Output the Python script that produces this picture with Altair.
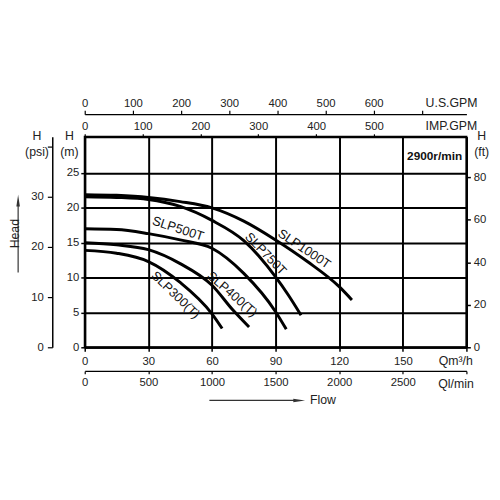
import altair as alt
import pandas as pd

FONT = "Liberation Sans"

# ---- pump curves: Q (m3/h) vs H (m) ----
models = ["SLP1000T", "SLP750T", "SLP500T", "SLP400(T)", "SLP300(T)"]
q_1000 = [0, 15, 30, 45, 60, 75, 90, 105, 120, 126]
h_1000 = [21.9, 21.8, 21.5, 20.9, 20.0, 18.1, 15.4, 12.3, 8.7, 6.8]
q_750 = [0, 15, 30, 45, 60, 75, 90, 96, 102]
h_750 = [21.6, 21.5, 21.2, 20.2, 18.2, 15.3, 10.1, 7.5, 4.6]
q_500 = [0, 15, 30, 45, 60, 75, 90, 95]
h_500 = [17.0, 16.9, 16.3, 15.4, 14.2, 10.6, 5.1, 2.6]
q_400 = [0, 15, 30, 45, 60, 70, 77.5]
h_400 = [15.0, 14.7, 14.0, 12.0, 8.9, 5.3, 2.9]
q_300 = [0, 15, 30, 45, 60, 64.8]
h_300 = [13.9, 13.5, 12.3, 9.3, 4.8, 2.7]

# curve labels
label_q = [44.0, 85.3, 103.5, 69.5, 42.8]
label_h = [17.0, 13.4, 14.1, 7.6, 7.5]
label_angle = [18, 46, 34, 41, 44]
label_text = ["SLP500T", "SLP750T", "SLP1000T", "SLP400(T)", "SLP300(T)"]

speed_text = ["2900r/min"]
speed_q = [165.0]
speed_h = [27.5]

# axis ticks
q_ticks = [0, 30, 60, 90, 120, 150, 180]
h_ticks = [0, 5, 10, 15, 20, 25]
ft_ticks = [0, 20, 40, 60, 80]
psi_ticks = [0, 10, 20, 30, 40]
lmin_ticks = [0, 500, 1000, 1500, 2000, 2500, 3000]
imp_ticks = [0, 100, 200, 300, 400, 500]
us_ticks = [0, 100, 200, 300, 400, 500, 600, 700]

Q_MAX = 180
H_MAX = 30.2
PSI_MAX = 42.0
FT_MAX = H_MAX * 3.28084
LMIN_MAX = Q_MAX * 1000 / 60
IMP_MAX = Q_MAX * 3.66615
US_MAX = Q_MAX * 4.40287

W, H = 388, 214

frames = []
for name, qs, hs in zip(models, [q_1000, q_750, q_500, q_400, q_300],
                        [h_1000, h_750, h_500, h_400, h_300]):
    frames.append(pd.DataFrame({"model": name, "Q": qs, "H": hs}))
curve_df = pd.concat(frames, ignore_index=True)
label_df = pd.DataFrame({"Q": label_q, "H": label_h, "angle": label_angle, "name": label_text})
speed_df = pd.DataFrame({"Q": speed_q, "H": speed_h, "t": speed_text})


def ax(**kw):
    base = dict(labelFont=FONT, titleFont=FONT, labelFontSize=11.5, titleFontSize=12.5,
                labelColor="#222", titleColor="#222", titleFontWeight="normal",
                domainColor="#000", tickColor="#000", grid=False, labelFlush=False,
                labelOverlap=False, titleAngle=0, format="d")
    base.update(kw)
    return alt.Axis(**base)


def hide_last(v):
    return f"datum.value == {v} ? '' : datum.label"


xs = alt.Scale(domain=[0, Q_MAX], nice=False, zero=False)
ys = alt.Scale(domain=[0, H_MAX], nice=False, zero=False)

x_axis = ax(orient="bottom", values=q_ticks, labelExpr=hide_last(180), grid=True,
            gridColor="#000", gridWidth=2, gridOpacity=1, domainWidth=2, tickSize=4,
            tickWidth=1.5, labelPadding=4, title="Qm³/h", titleX=394, titleY=14,
            titleAlign="right", titleBaseline="middle")
y_axis = ax(orient="left", values=h_ticks, grid=True, gridColor="#000", gridWidth=2,
            gridOpacity=1, domainWidth=2, tickSize=4, tickWidth=1.5, labelPadding=2,
            title=["H", "(m)"], titleX=-16, titleY=-7, titleAlign="center",
            titleBaseline="top", titleLineHeight=16)

curves = alt.Chart(curve_df).mark_line(color="black", strokeWidth=3, interpolate="monotone").encode(
    x=alt.X("Q:Q", scale=xs, axis=x_axis),
    y=alt.Y("H:Q", scale=ys, axis=y_axis),
    detail="model:N",
)
labels = alt.Chart(label_df).mark_text(font=FONT, fontSize=13, color="#111",
                                       align="center", baseline="middle").encode(
    x=alt.X("Q:Q", scale=xs, axis=x_axis),
    y=alt.Y("H:Q", scale=ys, axis=y_axis),
    text="name:N",
    angle=alt.Angle("angle:Q", scale=None),
)
speed = alt.Chart(speed_df).mark_text(font=FONT, fontSize=12, fontWeight="bold", color="#111",
                                      align="center", baseline="middle").encode(
    x=alt.X("Q:Q", scale=xs, axis=x_axis),
    y=alt.Y("H:Q", scale=ys, axis=y_axis),
    text="t:N",
)
main = alt.layer(curves, labels, speed)

# ---- secondary axes ----
ft_layer = alt.Chart(pd.DataFrame({"ft": ft_ticks})).mark_point(opacity=0).encode(
    y=alt.Y("ft:Q", scale=alt.Scale(domain=[0, FT_MAX], nice=False, zero=False),
            axis=ax(orient="right", values=ft_ticks, tickSize=4, tickWidth=1.5, domainWidth=2,
                    labelPadding=3, title=["H", "(ft)"], titleX=15, titleY=-7,
                    titleAlign="center", titleBaseline="top", titleLineHeight=16))
)
psi_layer = alt.Chart(pd.DataFrame({"psi": psi_ticks})).mark_point(opacity=0).encode(
    y=alt.Y("psi:Q", scale=alt.Scale(domain=[0, PSI_MAX], nice=False, zero=False),
            axis=ax(orient="left", offset=33, values=psi_ticks, labelExpr=hide_last(40),
                    tickSize=5, tickWidth=1.2, domainWidth=1.5, labelPadding=4,
                    title=["H", "(psi)"], titleX=-16, titleY=-7, titleAlign="center",
                    titleBaseline="top", titleLineHeight=16))
)
lmin_layer = alt.Chart(pd.DataFrame({"l": lmin_ticks})).mark_point(opacity=0).encode(
    x=alt.X("l:Q", scale=alt.Scale(domain=[0, LMIN_MAX], nice=False, zero=False),
            axis=ax(orient="bottom", offset=24, values=lmin_ticks, labelExpr=hide_last(3000),
                    tickSize=3, tickWidth=1.2, domainWidth=1.5, labelPadding=3,
                    title="Ql/min", titleX=395, titleY=13, titleAlign="right",
                    titleBaseline="middle"))
)
imp_layer = alt.Chart(pd.DataFrame({"g": imp_ticks})).mark_point(opacity=0).encode(
    x=alt.X("g:Q", scale=alt.Scale(domain=[0, IMP_MAX], nice=False, zero=False),
            axis=ax(orient="top", values=imp_ticks, tickSize=3, tickWidth=1.2, domainWidth=2,
                    labelPadding=2, title="IMP.GPM", titleX=346, titleY=-11,
                    titleAlign="left", titleBaseline="middle"))
)
us_layer = alt.Chart(pd.DataFrame({"u": us_ticks})).mark_point(opacity=0).encode(
    x=alt.X("u:Q", scale=alt.Scale(domain=[0, US_MAX], nice=False, zero=False),
            axis=ax(orient="top", offset=23, values=us_ticks, labelExpr=hide_last(700),
                    tickSize=4, tickWidth=1.2, domainWidth=1.5, labelPadding=2,
                    title="U.S.GPM", titleX=346, titleY=-12, titleAlign="left",
                    titleBaseline="middle"))
)

# ---- annotation arrows ----
one = pd.DataFrame({"a": [0]})
ARROW_R = "M-1,-0.3L1,0L-1,0.3Z"
ARROW_U = "M-0.3,1L0,-1L0.3,1Z"
flow_line = alt.Chart(one).mark_rule(color="#333", strokeWidth=1.2).encode(
    x=alt.value(126.7), x2=alt.value(214), y=alt.value(268))
flow_head = alt.Chart(one).mark_point(shape=ARROW_R, filled=True, color="#333", size=144,
                                      opacity=1, strokeWidth=0).encode(
    x=alt.value(218), y=alt.value(268))
flow_text = alt.Chart(one).mark_text(text="Flow", font=FONT, fontSize=12.5, color="#222",
                                     align="left", baseline="middle").encode(
    x=alt.value(229), y=alt.value(268))
head_line = alt.Chart(one).mark_rule(color="#333", strokeWidth=1.2).encode(
    x=alt.value(-67.7), y=alt.value(138), y2=alt.value(66))
head_head = alt.Chart(one).mark_point(shape=ARROW_U, filled=True, color="#333", size=144,
                                      opacity=1, strokeWidth=0).encode(
    x=alt.value(-67.7), y=alt.value(65))
head_text = alt.Chart(one).mark_text(text="Head", font=FONT, fontSize=12.5, color="#222",
                                     align="center", baseline="middle", angle=270).encode(
    x=alt.value(-71), y=alt.value(98.5))

chart = alt.layer(
    main, ft_layer, psi_layer, lmin_layer, imp_layer, us_layer,
    flow_line, flow_head, flow_text, head_line, head_head, head_text,
).resolve_scale(x="independent", y="independent").resolve_axis(
    x="independent", y="independent"
).properties(
    width=W, height=H,
    padding={"left": 78, "top": 127, "right": 26, "bottom": 130},
    autosize=alt.AutoSizeParams(type="none"),
    background="white",
).configure_view(stroke="#000", strokeWidth=2)

chart.save("out.html", embed_options={"renderer": "svg", "actions": False})
